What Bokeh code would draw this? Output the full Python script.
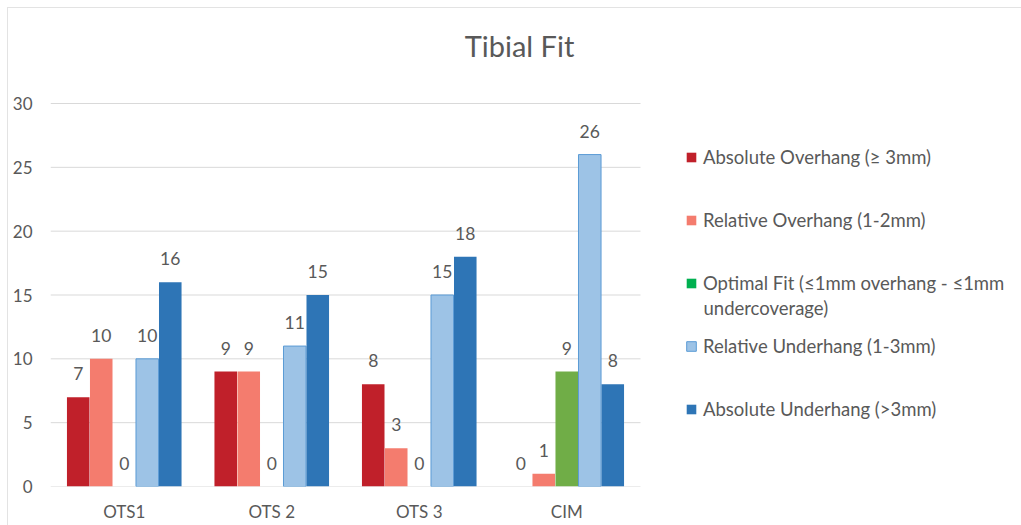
from bokeh.plotting import figure
from bokeh.models import (Range1d, ColumnDataSource, Label, FixedTicker,
                          Legend, LegendItem)
from bokeh.transform import dodge
from bokeh.embed import file_html
from bokeh.resources import INLINE
from bokeh.core.properties import value

# ---- data ----
categories = ["OTS1", "OTS 2", "OTS 3", "CIM"]
series_names = [
    "Absolute Overhang (\u2265 3mm)",
    "Relative Overhang (1-2mm)",
    "Optimal Fit (\u22641mm overhang - \u22641mm\nundercoverage)",
    "Relative Underhang (1-3mm)",
    "Absolute Underhang (>3mm)",
]
abs_overhang = [7, 9, 8, 0]
rel_overhang = [10, 9, 3, 1]
optimal_fit = [0, 0, 0, 9]
rel_underhang = [10, 11, 15, 26]
abs_underhang = [16, 15, 18, 8]
y_ticks = [0, 5, 10, 15, 20, 25, 30]
title_text = "Tibial Fit"

# ---- styles / layout (pixels) ----
fills = ["#C0202A", "#F47C6E", "#70AD47", "#9DC3E6", "#2E75B6"]
outlines = [None, None, None, "#5B9BD5", None]
legend_fills = ["#C0202A", "#F47C6E", "#00B050", "#9DC3E6", "#2E75B6"]
legend_lines = [None, None, None, "#5B9BD5", None]
FONT = "Lato"
TXT = "#595959"
GRID = "#d9d9d9"
W, H = 1021, 525
LEFT, BOTTOM = 50, 39            # border sizes
PLOT_TOP_PX = 103                # pixel row of the top gridline (30)
CAT_PX = 147.5                   # pixel width of one category
FRAME_W, FRAME_H = W - LEFT, H - BOTTOM
y_max = y_ticks[-1]
px_per_unit = (FRAME_H - PLOT_TOP_PX) / y_max

values = [abs_overhang, rel_overhang, optimal_fit, rel_underhang, abs_underhang]
keys = ["s0", "s1", "s2", "s3", "s4"]
data = {"xi": list(range(len(categories)))}
for k, v in zip(keys, values):
    data[k] = v
    data[k + "_lbl"] = [str(x) for x in v]
src = ColumnDataSource(data)

chart_border = ("linear-gradient(#e3e3e3,#e3e3e3) 7px 7px / 1px 100% no-repeat, "
                "linear-gradient(#e3e3e3,#e3e3e3) 7px 7px / 100% 1px no-repeat")
p = figure(
    x_range=Range1d(-0.5, -0.5 + FRAME_W / CAT_PX),
    y_range=Range1d(0, FRAME_H / px_per_unit),
    width=W, height=H,
    output_backend="svg", toolbar_location=None,
    min_border_left=LEFT, min_border_right=0, min_border_top=0, min_border_bottom=BOTTOM,
    styles={"background": chart_border},
)
p.outline_line_color = None
p.background_fill_alpha = 0
p.border_fill_alpha = 0
p.xgrid.grid_line_color = None
p.ygrid.grid_line_color = None

# horizontal gridlines, spanning only the category area
n = len(categories)
gsrc = ColumnDataSource({"y": y_ticks, "x0": [-0.5] * len(y_ticks), "x1": [n - 0.5] * len(y_ticks)})
p.segment(x0="x0", x1="x1", y0="y", y1="y", source=gsrc, line_color=GRID, line_width=1)

bw = 0.156
offsets = [-2 * bw, -bw, 0, bw, 2 * bw]
for k, off, fc, lc in zip(keys, offsets, fills, outlines):
    p.vbar(x=dodge("xi", off), top=k, width=bw * 0.98, source=src,
           fill_color=fc, line_color=lc, line_width=1)
    p.text(x=dodge("xi", off), y=k, text=k + "_lbl", source=src,
           text_align="center", text_baseline="bottom", y_offset=-17,
           text_font=value(FONT), text_font_size="17.5px", text_color=TXT)

p.yaxis.ticker = FixedTicker(ticks=y_ticks)
p.yaxis.axis_line_color = None
p.yaxis.major_tick_line_color = None
p.yaxis.major_tick_out = 0
p.yaxis.minor_tick_line_color = None
p.yaxis.major_label_standoff = 18
p.yaxis.major_label_text_font = FONT
p.yaxis.major_label_text_font_size = "17px"
p.yaxis.major_label_text_color = TXT

p.xaxis.ticker = FixedTicker(ticks=list(range(n)))
p.xaxis.major_label_overrides = {i: c for i, c in enumerate(categories)}
p.xaxis.axis_line_color = None
p.xaxis.major_tick_line_color = None
p.xaxis.major_tick_out = 0
p.xaxis.minor_tick_line_color = None
p.xaxis.major_label_standoff = 14
p.xaxis.major_label_text_font = FONT
p.xaxis.major_label_text_font_size = "17px"
p.xaxis.major_label_text_color = TXT

# title (screen units, relative to the frame's bottom-left)
p.add_layout(Label(x=519 - LEFT, y=FRAME_H - 45, x_units="screen", y_units="screen",
                   text=title_text, text_align="center", text_baseline="middle",
                   text_font=FONT, text_font_size="29px", text_color=TXT))

# ---- legend: one small legend per entry, evenly spaced ----
nan = float("nan")
item_centers = [158 + 63 * i for i in range(len(series_names))]  # pixel rows
for name, fc, lc, c in zip(series_names, legend_fills, legend_lines, item_centers):
    swatch = ColumnDataSource({"x": [nan], "top": [nan]})
    r = p.vbar(x="x", top="top", width=0.1, source=swatch, fill_color=fc, line_color=lc)
    lines = name.split("\n")
    lg = Legend(items=[LegendItem(label=lines[0], renderers=[r])],
                location=(685 - LEFT, FRAME_H - c - 10), orientation="vertical",
                glyph_width=12, glyph_height=12, label_height=20, label_standoff=6,
                padding=0, margin=0, spacing=0, border_line_color=None,
                background_fill_alpha=0, label_text_font=FONT,
                label_text_font_size="18.5px", label_text_color=TXT,
                label_text_baseline="middle")
    p.add_layout(lg)
    for j, extra in enumerate(lines[1:], start=1):
        p.add_layout(Label(x=703 - LEFT, y=FRAME_H - c - 23 * j, x_units="screen", y_units="screen",
                           text=extra, text_align="left", text_baseline="middle",
                           text_font=FONT, text_font_size="18.5px", text_color=TXT))

open("out.html", "w").write(file_html(p, INLINE))
